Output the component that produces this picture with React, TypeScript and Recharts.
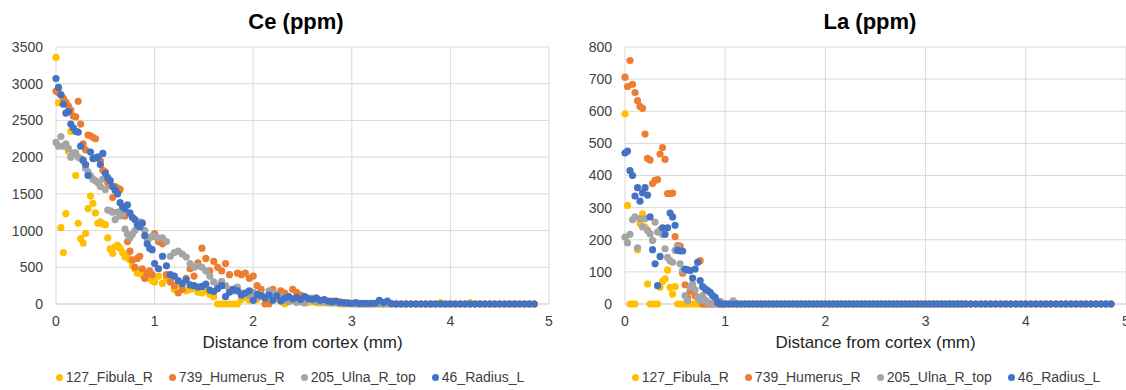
import { CartesianGrid, Scatter, ScatterChart, XAxis, YAxis } from "recharts";

// distance from cortex (mm) shared by every series
const dist = [
  // 0 – 1.0 mm
  0, 0.025, 0.05, 0.075, 0.1, 0.125, 0.15, 0.175, 0.2, 0.225,
  0.25, 0.275, 0.3, 0.325, 0.35, 0.375, 0.4, 0.425, 0.45, 0.475,
  0.5, 0.525, 0.55, 0.575, 0.6, 0.625, 0.65, 0.675, 0.7, 0.725,
  0.75, 0.775, 0.8, 0.825, 0.85, 0.875, 0.9, 0.925, 0.95, 0.975,
  1.0,
  // 1.04 – 3.40 mm
  1.04, 1.08, 1.12, 1.16, 1.2, 1.24, 1.28, 1.32, 1.36, 1.4,
  1.44, 1.48, 1.52, 1.56, 1.6, 1.64, 1.68, 1.72, 1.76, 1.8,
  1.84, 1.88, 1.92, 1.96, 2.0, 2.04, 2.08, 2.12, 2.16, 2.2,
  2.24, 2.28, 2.32, 2.36, 2.4, 2.44, 2.48, 2.52, 2.56, 2.6,
  2.64, 2.68, 2.72, 2.76, 2.8, 2.84, 2.88, 2.92, 2.96, 3.0,
  3.04, 3.08, 3.12, 3.16, 3.2, 3.24, 3.28, 3.32, 3.36, 3.4,
  // 3.45 – 4.85 mm
  3.45, 3.5, 3.55, 3.6, 3.65, 3.7, 3.75, 3.8, 3.85, 3.9,
  3.95, 4.0, 4.05, 4.1, 4.15, 4.2, 4.25, 4.3, 4.35, 4.4,
  4.45, 4.5, 4.55, 4.6, 4.65, 4.7, 4.75, 4.8, 4.85,
];

const seriesNames = ["127_Fibula_R", "739_Humerus_R", "205_Ulna_R_top", "46_Radius_L"];
const seriesColors = ["#FFC000", "#ED7D31", "#A5A5A5", "#4472C4"];

const xTicks = [0, 1, 2, 3, 4, 5];
const ceTicks = [0, 500, 1000, 1500, 2000, 2500, 3000, 3500];
const laTicks = [0, 100, 200, 300, 400, 500, 600, 700, 800];

// ---- Ce (ppm)
const ceFibula = [
  3360, 2740, 1040, 700, 1230, 2080, 2350, 2060, 1750, 1100,
  890, 830, 960, 1300, 1470, 1370, 1240, 1100, 1120, 1090,
  1080, 900, 750, 690, 780, 800, 760, 700, 640, 650,
  600, 520, 480, 420, 450, 400, 420, 380, 350, 320,
  300,
  380, 280, 350, 300, 200, 260, 250, 180, 200, 210,
  160, 150, 180, 130, 100, 0, 0, 0, 0, 0,
  0, 60, 100, 50, 80, 60, 120, 90, 60, 100,
  70, 80, 0, 40, 60, 50, 30, 40, 20, 30,
  20, 10, 20, 10, 20, 10, 0, 0, 0, 0,
  0, 0, 0, 0, 0, 0, 0, 0, 0, 0,
  0, 0, 0, 0, 0, 0, 0, 0, 0, 20,
  0, 0, 0, 0, 0, 20, 0, 0, 0, 0,
  0, 0, 0, 0, 0, 0, 0, 0, 0,
];

const ceHumerus = [
  2900, 2880, 2850, 2800, 2750, 2700, 2640, 2560, 2550, 2760,
  2450, 2180, 2100, 2300, 2290, 2270, 2250, 2000, 1950, 1820,
  1800, 1650, 1620, 1450, 1600, 1580, 1560, 1250, 1200, 850,
  720, 600, 500, 620, 650, 480, 350, 420, 450, 400,
  960,
  850, 820, 400, 300, 250, 150, 200, 350, 480, 380,
  560, 760, 620, 450, 580, 500, 450, 550, 400, 200,
  420, 400, 420, 350, 380, 250, 200, 0, 0, 200,
  120, 180, 150, 100, 200, 160, 120, 100, 80, 60,
  80, 40, 50, 30, 40, 20, 30, 10, 20, 10,
  0, 10, 0, 10, 0, 10, 20, 0, 10, 0,
  0, 0, 0, 0, 0, 0, 0, 0, 0, 0,
  0, 0, 0, 0, 0, 0, 0, 0, 0, 0,
  0, 0, 0, 0, 0, 0, 0, 0, 0,
];

const ceUlna = [
  2200, 2150, 2280, 2150, 2180, 2120, 2000, 2050, 2060, 2000,
  1980, 1950, 1850, 1800, 1750, 1700, 1680, 1650, 1600, 1700,
  1560, 1280, 1270, 1250, 1150, 1250, 1200, 1240, 1020, 950,
  900, 950, 1000, 1100, 1120, 1110, 1000, 880, 900, 920,
  920,
  900, 900, 850, 650, 700, 720, 680, 640, 550, 500,
  520, 500, 450, 380, 300, 250, 310, 250, 200, 180,
  230, 150, 140, 120, 160, 100, 130, 100, 180, 150,
  120, 100, 60, 30, 50, 20, 40, 10, 60, 80,
  30, 40, 20, 30, 10, 20, 10, 0, 10, 0,
  0, 0, 0, 0, 0, 0, 0, 0, 0, 0,
  0, 0, 0, 0, 0, 0, 0, 0, 0, 0,
  0, 0, 0, 0, 0, 0, 0, 0, 0, 0,
  0, 0, 0, 0, 0, 0, 0, 0, 0,
];

const ceRadius = [
  3070, 2950, 2850, 2720, 2600, 2620, 2450, 2400, 2350, 2340,
  2150, 1960, 1900, 1750, 2070, 1980, 1990, 2000, 1900, 2050,
  1780, 1720, 1680, 1600, 1550, 1500, 1380, 1320, 1300, 1350,
  1240, 1180, 1150, 1080, 1050, 1100, 930, 820, 760, 740,
  550,
  480, 650, 520, 400, 380, 320, 280, 330, 260, 250,
  230, 240, 270, 190, 170, 210, 250, 100, 160, 200,
  180, 120, 150, 180, 50, 130, 110, 80, 120, 50,
  110, 40, 80, 100, 70, 90, 60, 100, 70, 60,
  80, 50, 60, 40, 30, 40, 20, 20, 10, 10,
  20, 5, 10, 5, 10, 10, 50, 20, 40, 5,
  0, 0, 0, 0, 0, 0, 0, 0, 0, 0,
  0, 0, 0, 0, 0, 0, 0, 0, 0, 0,
  0, 0, 0, 0, 0, 0, 0, 0, 0,
];

// ---- La (ppm)
const laFibula = [
  592, 307, 0, 0, 0, 169, 250, 281, 240, 62,
  0, 0, 0, 0, 52, 71, 78, 106, 52, 31,
  54, 0, 0, 0, 0, 0, 0, 0, 0, 0,
  0, 0, 0, 0, 0, 0, 0, 0, 0, 0,
  0,
  0, 0, 0, 0, 0, 0, 0, 0, 0, 0,
  0, 0, 0, 0, 0, 0, 0, 0, 0, 0,
  0, 0, 0, 0, 0, 0, 0, 0, 0, 0,
  0, 0, 0, 0, 0, 0, 0, 0, 0, 0,
  0, 0, 0, 0, 0, 0, 0, 0, 0, 0,
  0, 0, 0, 0, 0, 0, 0, 0, 0, 0,
  0, 0, 0, 0, 0, 0, 0, 0, 0, 0,
  0, 0, 0, 0, 0, 0, 0, 0, 0, 0,
  0, 0, 0, 0, 0, 0, 0, 0, 0,
];

const laHumerus = [
  706, 677, 758, 684, 658, 633, 615, 609, 529, 453,
  448, 375, 385, 387, 467, 487, 450, 344, 344, 345,
  210, 182, 180, 96, 60, 20, 40, 60, 26, 20,
  135, 0, 0, 0, 0, 0, 0, 0, 0, 0,
  0,
  0, 0, 0, 0, 0, 0, 0, 0, 0, 0,
  0, 0, 0, 0, 0, 0, 0, 0, 0, 0,
  0, 0, 0, 0, 0, 0, 0, 0, 0, 0,
  0, 0, 0, 0, 0, 0, 0, 0, 0, 0,
  0, 0, 0, 0, 0, 0, 0, 0, 0, 0,
  0, 0, 0, 0, 0, 0, 0, 0, 0, 0,
  0, 0, 0, 0, 0, 0, 0, 0, 0, 0,
  0, 0, 0, 0, 0, 0, 0, 0, 0, 0,
  0, 0, 0, 0, 0, 0, 0, 0, 0,
];

const laUlna = [
  208, 190, 217, 262, 271, 175, 265, 240, 265, 229,
  219, 198, 255, 224, 231, 216, 172, 145, 135, 130,
  167, 177, 125, 104, 26, 10, 52, 62, 44, 21,
  10, 26, 12, 5, 0, 0, 10, 0, 8, 0,
  0,
  0, 10, 0, 0, 0, 0, 0, 0, 0, 0,
  0, 0, 0, 0, 0, 0, 0, 0, 0, 0,
  0, 0, 0, 0, 0, 0, 0, 0, 0, 0,
  0, 0, 0, 0, 0, 0, 0, 0, 0, 0,
  0, 0, 0, 0, 0, 0, 0, 0, 0, 0,
  0, 0, 0, 0, 0, 0, 0, 0, 0, 0,
  0, 0, 0, 0, 0, 0, 0, 0, 0, 0,
  0, 0, 0, 0, 0, 0, 0, 0, 0, 0,
  0, 0, 0, 0, 0, 0, 0, 0, 0,
];

const laRadius = [
  470, 476, 415, 400, 336, 362, 320, 346, 362, 339,
  271, 169, 125, 57, 148, 237, 217, 237, 283, 271,
  245, 167, 165, 165, 109, 106, 104, 81, 109, 130,
  73, 54, 47, 42, 36, 26, 21, 5, 0, 0,
  0,
  0, 0, 0, 0, 0, 0, 0, 0, 0, 0,
  0, 0, 0, 0, 0, 0, 0, 0, 0, 0,
  0, 0, 0, 0, 0, 0, 0, 0, 0, 0,
  0, 0, 0, 0, 0, 0, 0, 0, 0, 0,
  0, 0, 0, 0, 0, 0, 0, 0, 0, 0,
  0, 0, 0, 0, 0, 0, 0, 0, 0, 0,
  0, 0, 0, 0, 0, 0, 0, 0, 0, 0,
  0, 0, 0, 0, 0, 0, 0, 0, 0, 0,
  0, 0, 0, 0, 0, 0, 0, 0, 0,
];

const FONT = '"Liberation Sans", Arial, sans-serif';
const PANEL_W = 563;
const PANEL_H = 390;

const dot = (color: string) => (p: any) =>
  p.cx == null ? <g /> : <circle cx={p.cx} cy={p.cy} r={3.6} fill={color} />;

interface PanelProps {
  title: string;
  left: number;
  yTicks: number[];
  yAxisWidth: number;
  marginRight: number;
  series: number[][];
  titleCenter: number;
  legendCenter: number;
}

function Panel({ title, left, yTicks, yAxisWidth, marginRight, series, titleCenter, legendCenter }: PanelProps) {
  const plotCenter = (yAxisWidth + PANEL_W - marginRight) / 2;
  return (
    <>
      <div
        style={{
          position: "absolute",
          left: titleCenter - 150,
          top: 9,
          width: 300,
          textAlign: "center",
          fontWeight: "bold",
          fontSize: 22,
          lineHeight: "26px",
          color: "#000",
        }}
      >
        {title}
      </div>
      <div style={{ position: "absolute", left, top: 0 }}>
        {/* x axis is 30px tall by default, so plot bottom = 390 - 56 - 30 = 304 */}
        <ScatterChart
          width={PANEL_W}
          height={PANEL_H}
          margin={{ top: 47, right: marginRight, bottom: 56, left: 0 }}
        >
          <CartesianGrid stroke="#D9D9D9" />
          <XAxis
            type="number"
            dataKey="x"
            domain={[0, 5]}
            ticks={xTicks}
            interval={0}
            height={30}
            tickLine={false}
            tickSize={0}
            tickMargin={12}
            axisLine={{ stroke: "#D9D9D9" }}
            tick={{ fill: "#404040", fontSize: 14 }}
          />
          <YAxis
            type="number"
            dataKey="y"
            domain={[0, yTicks[yTicks.length - 1]]}
            ticks={yTicks}
            interval={0}
            width={yAxisWidth}
            tickLine={false}
            tickSize={0}
            tickMargin={13}
            axisLine={false}
            tick={{ fill: "#404040", fontSize: 14 }}
          />
          {series.map((vals, k) => (
            <Scatter
              key={seriesNames[k]}
              name={seriesNames[k]}
              data={dist.map((x, i) => ({ x, y: vals[i] }))}
              fill={seriesColors[k]}
              shape={dot(seriesColors[k])}
              isAnimationActive={false}
            />
          ))}
        </ScatterChart>
      </div>
      <div
        style={{
          position: "absolute",
          left: left + plotCenter - 150,
          top: 333,
          width: 300,
          textAlign: "center",
          fontSize: 17,
          lineHeight: "20px",
          color: "#262626",
        }}
      >
        Distance from cortex (mm)
      </div>
      <div
        style={{
          position: "absolute",
          left: legendCenter - 260,
          top: 368,
          width: 520,
          display: "flex",
          justifyContent: "center",
          gap: 16,
          fontSize: 14,
          lineHeight: "18px",
          color: "#404040",
        }}
      >
        {seriesNames.map((n, k) => (
          <span key={n} style={{ display: "inline-flex", alignItems: "center" }}>
            <span
              style={{
                display: "inline-block",
                width: 7,
                height: 7,
                borderRadius: "50%",
                background: seriesColors[k],
                marginRight: 3,
              }}
            />
            {n}
          </span>
        ))}
      </div>
    </>
  );
}

export default function App() {
  return (
    <div
      style={{
        position: "absolute",
        left: 0,
        top: 0,
        width: 1126,
        height: 390,
        background: "#fff",
        fontFamily: FONT,
        overflow: "hidden",
      }}
    >
      <Panel
        title="Ce (ppm)"
        left={0}
        yTicks={ceTicks}
        yAxisWidth={56}
        marginRight={14}
        series={[ceFibula, ceHumerus, ceUlna, ceRadius]}
        titleCenter={296}
        legendCenter={290}
      />
      <Panel
        title="La (ppm)"
        left={563}
        yTicks={laTicks}
        yAxisWidth={62}
        marginRight={0}
        series={[laFibula, laHumerus, laUlna, laRadius]}
        titleCenter={870}
        legendCenter={866}
      />
    </div>
  );
}
